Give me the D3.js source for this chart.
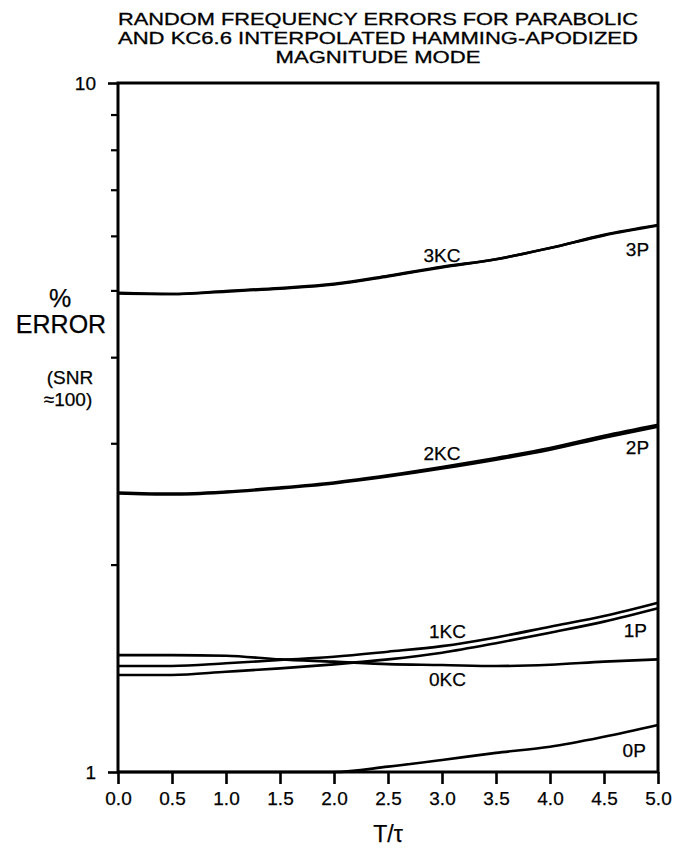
<!DOCTYPE html>
<html><head><meta charset="utf-8">
<script src="https://cdn.jsdelivr.net/npm/d3@7/dist/d3.min.js"></script>
<style>body{margin:0;background:#fff}svg{display:block}</style>
</head><body><svg id="c" width="686" height="854"></svg>
<script>
// ---- data ----
const T = [0, 0.5, 1.0, 1.5, 2.0, 2.5, 3.0, 3.5, 4.0, 4.5, 5.0];
const s3KC = [4.96, 4.94, 4.99, 5.04, 5.11, 5.25, 5.41, 5.55, 5.76, 6.02, 6.22];
const s3P  = [4.95, 4.94, 4.98, 5.03, 5.10, 5.24, 5.40, 5.55, 5.76, 6.01, 6.21];
const s2KC = [2.545, 2.535, 2.553, 2.588, 2.632, 2.695, 2.770, 2.856, 2.953, 3.075, 3.19];
const s2P  = [2.537, 2.528, 2.546, 2.580, 2.623, 2.684, 2.757, 2.840, 2.936, 3.056, 3.170];
const s1KC = [1.425, 1.425, 1.438, 1.454, 1.470, 1.495, 1.523, 1.568, 1.625, 1.684, 1.761];
const s1P  = [1.383, 1.383, 1.398, 1.414, 1.433, 1.457, 1.490, 1.538, 1.593, 1.653, 1.728];
const s0KC = [1.478, 1.478, 1.475, 1.457, 1.446, 1.434, 1.430, 1.425, 1.431, 1.446, 1.457];
const s0P  = [1.0, 1.0, 1.0, 1.0, 1.0, 1.018, 1.041, 1.066, 1.088, 1.125, 1.170];
const seriesNames = ["3KC", "3P", "2KC", "2P", "1KC", "1P", "0KC", "0P"];
const seriesVals = [s3KC, s3P, s2KC, s2P, s1KC, s1P, s0KC, s0P];
// curve labels: [text, T, value]
const labelText = ["3KC", "3P", "2KC", "2P", "1KC", "1P", "0KC", "0P"];
const labelT    = [3.0, 4.81, 3.0, 4.81, 3.05, 4.79, 3.05, 4.78];
const labelV    = [5.50, 5.61, 2.838, 2.894, 1.565, 1.57, 1.333, 1.051];
const xTicks = [0, 0.5, 1.0, 1.5, 2.0, 2.5, 3.0, 3.5, 4.0, 4.5, 5.0];
const yMajor = [1, 10];
const yMinor = [2, 3, 4, 5, 6, 7, 8, 9];
const titleLines = ["RANDOM FREQUENCY ERRORS FOR PARABOLIC",
                    "AND KC6.6 INTERPOLATED HAMMING-APODIZED",
                    "MAGNITUDE MODE"];

// ---- layout ----
const L = 118, R = 658, TOP = 83, B = 772;
const FONT = "'Liberation Sans', Arial, Helvetica, sans-serif";
const svg = d3.select("#c").style("font-family", FONT);
const x = d3.scaleLinear().domain([0, 5]).range([L, R]);
const y = d3.scaleLog().domain([1, 10]).range([B, TOP]);

// title
svg.append("g").selectAll("text").data(titleLines).join("text")
  .attr("x", 378).attr("y", (d, i) => 25 + i * 19)
  .attr("text-anchor", "middle").attr("font-size", 17)
  .attr("stroke", "#000").attr("stroke-width", 0.3)
  .attr("textLength", (d, i) => [520, 520, 205][i]).attr("lengthAdjust", "spacingAndGlyphs")
  .text(d => d);

// x axis
const xAxis = d3.axisBottom(x).tickValues(xTicks).tickFormat(d3.format(".1f"))
  .tickSize(12).tickPadding(8);
const gx = svg.append("g").attr("transform", `translate(0,${B})`).call(xAxis);
gx.select(".domain").remove();
gx.selectAll(".tick line").attr("stroke", "#000").attr("stroke-width", 2.6);
gx.selectAll(".tick text").attr("font-size", 19).attr("font-family", FONT).attr("fill", "#000")
  .attr("stroke", "#000").attr("stroke-width", 0.25);

// y axis major
const gy = svg.append("g").attr("transform", `translate(${L},0)`)
  .call(d3.axisLeft(y).tickValues(yMajor).tickFormat(d3.format("d")).tickSize(10).tickPadding(12));
gy.select(".domain").remove();
gy.selectAll(".tick line").attr("stroke", "#000").attr("stroke-width", 2.6);
gy.selectAll(".tick text").attr("font-size", 19).attr("font-family", FONT).attr("fill", "#000")
  .attr("stroke", "#000").attr("stroke-width", 0.25);
// y axis minor
const gym = svg.append("g").attr("transform", `translate(${L},0)`)
  .call(d3.axisLeft(y).tickValues(yMinor).tickFormat("").tickSize(7));
gym.select(".domain").remove();
gym.selectAll(".tick line").attr("stroke", "#000").attr("stroke-width", 2.2);

// frame
svg.append("rect").attr("x", L).attr("y", TOP).attr("width", R - L).attr("height", B - TOP)
  .attr("fill", "none").attr("stroke", "#000").attr("stroke-width", 3);

// lines
const line = d3.line().x((d, i) => x(T[i])).y(d => y(d)).curve(d3.curveMonotoneX);
svg.append("g").selectAll("path").data(seriesVals).join("path")
  .attr("d", d => line(d)).attr("fill", "none").attr("stroke", "#000")
  .attr("stroke-width", 2.6).attr("stroke-linejoin", "round");

// curve labels
svg.append("g").selectAll("text").data(labelText).join("text")
  .attr("x", (d, i) => x(labelT[i])).attr("y", (d, i) => y(labelV[i]))
  .attr("text-anchor", "middle").attr("font-size", 19)
  .attr("stroke", "#000").attr("stroke-width", 0.25).text(d => d);

// y label
const yl = svg.append("g").attr("text-anchor", "middle").attr("stroke", "#000").attr("stroke-width", 0.25);
yl.append("text").attr("x", 60).attr("y", 307).attr("font-size", 25).text("%");
yl.append("text").attr("x", 61).attr("y", 333).attr("font-size", 25).text("ERROR");
yl.append("text").attr("x", 70).attr("y", 384).attr("font-size", 19).text("(SNR");
yl.append("text").attr("x", 68).attr("y", 406).attr("font-size", 19).text("\u2248100)");

// x label
svg.append("text").attr("x", (L + R) / 2).attr("y", 842).attr("text-anchor", "middle")
  .attr("font-size", 23).attr("stroke", "#000").attr("stroke-width", 0.25).text("T/\u03c4");
</script></body></html>
